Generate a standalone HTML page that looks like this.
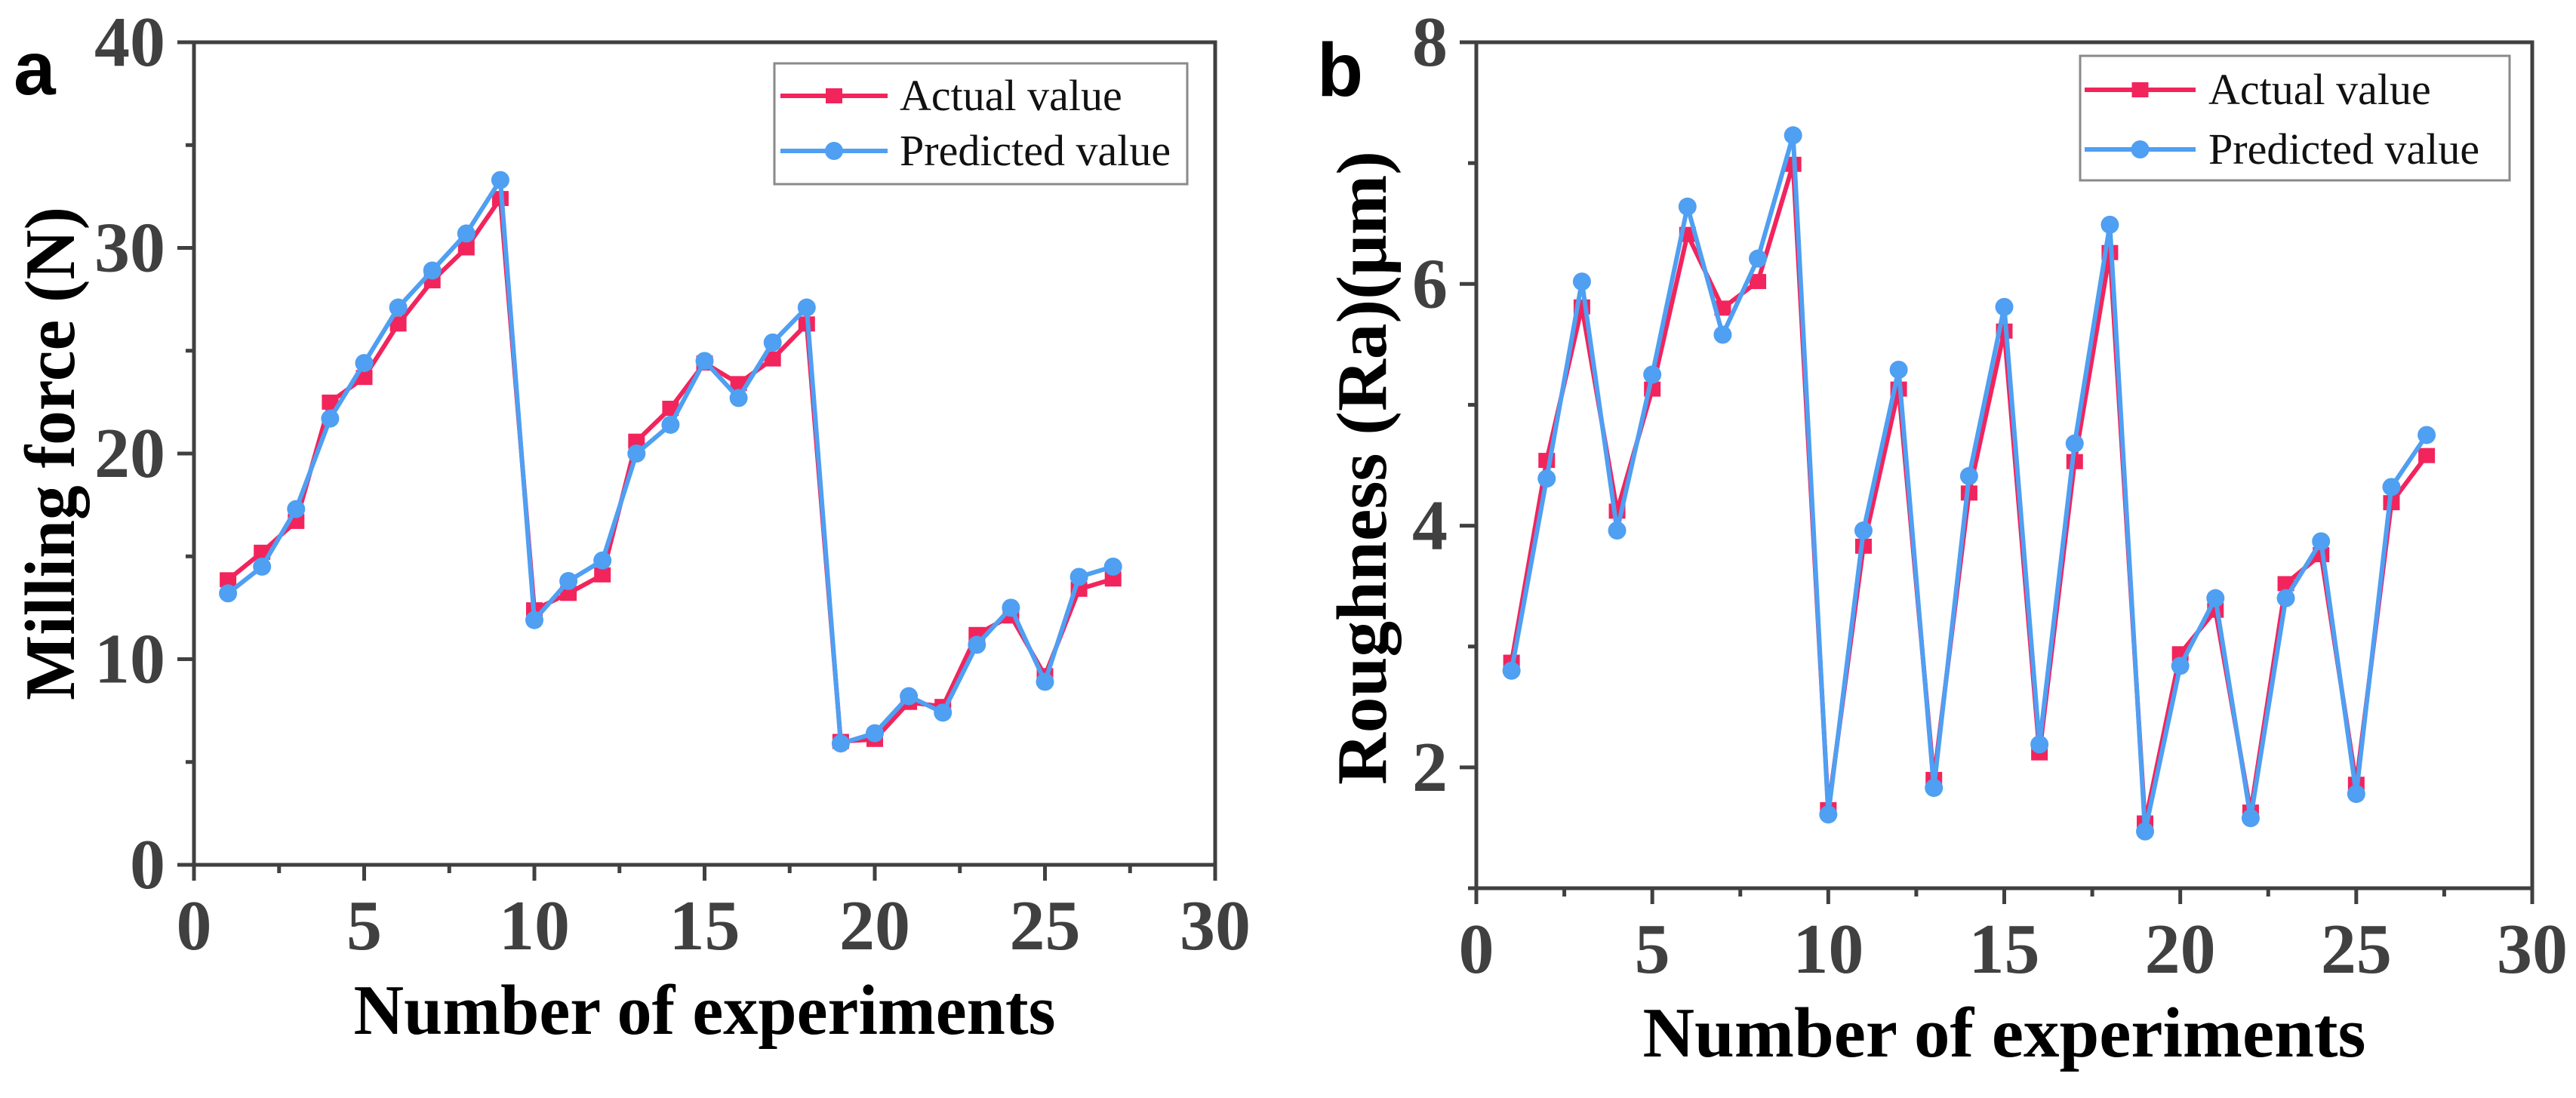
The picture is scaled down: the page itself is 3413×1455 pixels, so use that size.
<!DOCTYPE html>
<html><head><meta charset="utf-8"><style>
html,body{margin:0;padding:0;background:#fff;}
svg{display:block;}
text{font-family:"Liberation Serif",serif;}
</style></head><body>
<svg id="fig" width="3413" height="1455" viewBox="0 0 3413 1455" xmlns="http://www.w3.org/2000/svg"></svg>
<script>
const experiments = [1,2,3,4,5,6,7,8,9,10,11,12,13,14,15,16,17,18,19,20,21,22,23,24,25,26,27];
const forceActual = [13.86,15.2,16.7,22.5,23.7,26.3,28.4,30.0,32.4,12.4,13.2,14.1,20.6,22.2,24.4,23.4,24.6,26.3,6.0,6.1,7.9,7.7,11.2,12.1,9.2,13.4,13.9];
const forcePredicted = [13.2,14.5,17.3,21.7,24.4,27.1,28.9,30.7,33.3,11.9,13.8,14.8,20.0,21.4,24.5,22.7,25.4,27.1,5.9,6.4,8.2,7.4,10.7,12.5,8.9,14.0,14.5];
const roughActual = [2.87,4.54,5.81,4.12,5.13,6.41,5.80,6.02,6.99,1.65,3.83,5.13,1.90,4.27,5.61,2.12,4.53,6.26,1.54,2.94,3.30,1.63,3.52,3.76,1.86,4.19,4.58];
const roughPredicted = [2.80,4.39,6.02,3.96,5.25,6.64,5.58,6.21,7.23,1.61,3.96,5.29,1.83,4.41,5.81,2.19,4.68,6.49,1.47,2.84,3.40,1.58,3.40,3.87,1.78,4.32,4.75];
const xTicks = [0,5,10,15,20,25,30];
const forceTicks = [0,10,20,30,40];
const roughTicks = [2,4,6,8];

const NS='http://www.w3.org/2000/svg';
const svg=document.getElementById('fig');
function el(tag,attrs,parent){const e=document.createElementNS(NS,tag);for(const k in attrs)e.setAttribute(k,attrs[k]);(parent||svg).appendChild(e);return e;}
const RED='#f2245c', BLUE='#4f9ff2', AX='#404040';

function panel(cfg){
  const g=el('g',{});
  
  
  const {L,R,T,B,xmin,xmax,ymin,ymax}=cfg;
  const sx=v=>L+(v-xmin)/(xmax-xmin)*(R-L);
  const sy=v=>B-(v-ymin)/(ymax-ymin)*(B-T);
  const fr=el('rect',{x:L,y:T,width:R-L,height:B-T,fill:'none',stroke:AX,'stroke-width':5},g);
  
  
  xTicks.forEach((v,i)=>{
    el('line',{x1:sx(v),x2:sx(v),y1:B,y2:B+21,stroke:AX,'stroke-width':5},g);
    if(i<xTicks.length-1){const m=v+2.5;el('line',{x1:sx(m),x2:sx(m),y1:B,y2:B+11,stroke:AX,'stroke-width':5},g);}
    const t=el('text',{x:sx(v),y:B+112,'font-size':94,'font-weight':'bold',fill:AX,'text-anchor':'middle'},g);
    t.textContent=v;
    
    
  });
  cfg.yTicks.forEach((v,i)=>{
    el('line',{x1:L-22,x2:L,y1:sy(v),y2:sy(v),stroke:AX,'stroke-width':5},g);
    const m=v-cfg.yMinorStep;
    if(m>=ymin) el('line',{x1:L-11,x2:L,y1:sy(m),y2:sy(m),stroke:AX,'stroke-width':5},g);
    const t=el('text',{x:L-38,y:sy(v)+31,'font-size':94,'font-weight':'bold',fill:AX,'text-anchor':'end'},g);
    t.textContent=v;
    
    
  });
  const xt=el('text',{x:(L+R)/2,y:cfg.xTitleY,'font-size':94,'font-weight':'bold',fill:'#000','text-anchor':'middle',textLength:cfg.xTitleLen,lengthAdjust:'spacingAndGlyphs'},g);
  xt.textContent='Number of experiments';
  
  
  const yt=el('text',{x:0,y:0,'font-size':94,'font-weight':'bold',fill:'#000','text-anchor':'middle',textLength:cfg.yTitleLen,lengthAdjust:'spacingAndGlyphs',transform:`translate(${cfg.yTitleX},${cfg.yTitleCY}) rotate(-90)`},g);
  yt.textContent=cfg.yTitle;
  
  
  const pl=el('text',{x:cfg.letterX,y:cfg.letterY,'font-size':100,'font-weight':'bold',fill:'#000',style:'font-family:"Liberation Sans",sans-serif'},g);
  pl.textContent=cfg.letter;
  
  
  function series(vals,color,shape,name){
    const sg=el('g',{},g);
    
    
    const pts=experiments.map((x,i)=>sx(x)+','+sy(vals[i])).join(' ');
    el('polyline',{points:pts,fill:'none',stroke:color,'stroke-width':6,'stroke-linejoin':'round'},sg);
    experiments.forEach((x,i)=>{
      let m;
      if(shape==='sq') m=el('rect',{x:sx(x)-11,y:sy(vals[i])-10,width:22,height:20,fill:color},sg);
      else m=el('circle',{cx:sx(x),cy:sy(vals[i]),r:12,fill:color},sg);
      
      
    });
  }
  series(cfg.actual,RED,'sq','actual-series');
  series(cfg.pred,BLUE,'ci','predicted-series');
  const lg=el('g',{},g);
  
  
  const lgd=cfg.legend;
  el('rect',{x:lgd.x1,y:lgd.y1,width:lgd.x2-lgd.x1,height:lgd.y2-lgd.y1,fill:'#fff',stroke:'#8a8a8a','stroke-width':3},lg);
  [[RED,'sq','Actual value',lgd.r1],[BLUE,'ci','Predicted value',lgd.r2]].forEach(([c,s,label,ry])=>{
    const e=el('g',{},lg);
    
    
    el('line',{x1:lgd.lx1,x2:lgd.lx2,y1:ry,y2:ry,stroke:c,'stroke-width':6},e);
    const mx=(lgd.lx1+lgd.lx2)/2;
    if(s==='sq') el('rect',{x:mx-11,y:ry-10,width:22,height:20,fill:c},e);
    else el('circle',{cx:mx,cy:ry,r:12,fill:c},e);
    const t=el('text',{x:lgd.tx,y:ry+19,'font-size':58,fill:'#111'},e);
    t.textContent=label;
  });
}

panel({name:'panel-a-milling-force',L:257,R:1610,T:56,B:1146,xmin:0,xmax:30,ymin:0,ymax:40,
  yTicks:forceTicks,yMinorStep:5,actual:forceActual,pred:forcePredicted,
  xTitleY:1370,xTitleLen:930,yTitle:'Milling force (N)',yTitleX:98,yTitleCY:601,yTitleLen:654,
  letter:'a',letterX:18,letterY:125,
  legend:{x1:1026,y1:84,x2:1573,y2:244,lx1:1034,lx2:1176,tx:1192,r1:127,r2:200}});

panel({name:'panel-b-roughness',L:1956,R:3355,T:56,B:1177,xmin:0,xmax:30,ymin:1,ymax:8,
  yTicks:roughTicks,yMinorStep:1,actual:roughActual,pred:roughPredicted,
  xTitleY:1400,xTitleLen:958,yTitle:'Roughness (Ra)(μm)',yTitleX:1836,yTitleCY:620,yTitleLen:840,
  letter:'b',letterX:1745,letterY:127,
  legend:{x1:2756,y1:74,x2:3325,y2:239,lx1:2762,lx2:2909,tx:2926,r1:119,r2:198}});
</script>
</body></html>
